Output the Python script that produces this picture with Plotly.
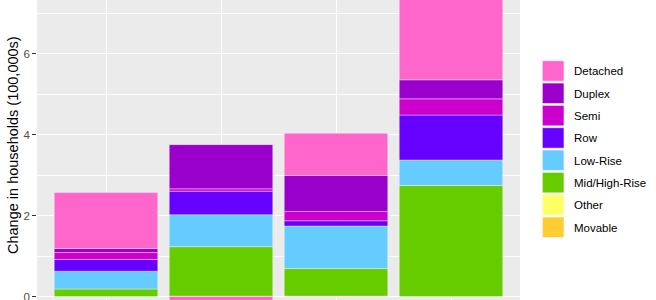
import plotly.graph_objects as go

# ---- data ----
periods = ["Period 1", "Period 2", "Period 3", "Period 4"]
types = ["Movable", "Other", "Mid/High-Rise", "Low-Rise", "Row", "Semi", "Duplex", "Detached"]
colors = {
    "Detached": "#FF66CC",
    "Duplex": "#9900CC",
    "Semi": "#CC00CC",
    "Row": "#6600FF",
    "Low-Rise": "#66CCFF",
    "Mid/High-Rise": "#66CC00",
    "Other": "#FFFF66",
    "Movable": "#FFCC33",
}
movable = [0.0, 0.0, 0.0, 0.0]
other = [0.0, 0.01, 0.01, 0.0]
mid_high = [0.185, 1.22, 0.68, 2.74]
low_rise = [0.44, 0.79, 1.05, 0.63]
row = [0.29, 0.58, 0.13, 1.11]
semi = [0.17, 0.06, 0.23, 0.40]
duplex = [0.10, 1.09, 0.89, 0.47]
detached = [1.38, -0.30, 1.04, 2.60]
values = {
    "Movable": movable, "Other": other, "Mid/High-Rise": mid_high, "Low-Rise": low_rise,
    "Row": row, "Semi": semi, "Duplex": duplex, "Detached": detached,
}
legend_order = ["Detached", "Duplex", "Semi", "Row", "Low-Rise", "Mid/High-Rise", "Other", "Movable"]

W, H = 656, 300
L, R = 37, 520  # panel pixel edges

fig = go.Figure()
for t in types:
    fig.add_trace(go.Bar(
        x=periods, y=values[t], name=t, width=0.9,
        marker=dict(color=colors[t], line=dict(color="rgba(255,255,255,0.35)", width=1)),
        showlegend=False,
    ))

# y range: 0 at pixel 296.5, 40.5 px per unit
y0px, ppu = 296.5, 40.5
yr = [-(H - y0px) / ppu, y0px / ppu]

fig.update_layout(
    width=W, height=H,
    margin=dict(l=L, r=W - R, t=0, b=0, autoexpand=False),
    barmode="relative", bargap=0.1,
    paper_bgcolor="white", plot_bgcolor="#EBEBEB",
    font=dict(family="Liberation Sans, Arial, sans-serif"),
    xaxis=dict(range=[-0.6, 3.6], showgrid=True, gridcolor="white", gridwidth=1.1,
               showticklabels=False, ticks="", zeroline=False, showline=False, automargin=False),
    yaxis=dict(range=yr, tickvals=[0, 2, 4, 6], ticktext=["0", "2", "4", "6"],
               showgrid=True, gridcolor="white", gridwidth=1.1, zeroline=False,
               minor=dict(tickvals=[1, 3, 5, 7], showgrid=True, gridcolor="white", gridwidth=0.55, ticks=""),
               ticks="outside", ticklen=3.7, tickwidth=1.1, tickcolor="#333333",
               ticklabeloverflow="allow",
               tickfont=dict(size=11.5, color="#4D4D4D"), automargin=False),
)

# axis title
fig.add_annotation(text="Change in households (100,000s)", textangle=-90,
                   xref="paper", yref="paper", x=(13 - L) / (R - L), y=1 - 145 / H,
                   xanchor="center", yanchor="middle", showarrow=False,
                   font=dict(size=14.5, color="black"))

# custom legend (ggplot-style keys)
def px_x(p):
    return (p - L) / (R - L)

def px_y(p):
    return 1 - p / H

top0, step, kh = 60.7, 22.33, 20.5
for i, t in enumerate(legend_order):
    ty = top0 + i * step
    fig.add_shape(type="rect", xref="paper", yref="paper",
                  x0=px_x(542.3), x1=px_x(564), y0=px_y(ty + kh), y1=px_y(ty),
                  fillcolor=colors[t], line=dict(color="rgba(255,255,255,0.6)", width=1))
    fig.add_annotation(text=t, xref="paper", yref="paper", x=px_x(571.5), y=px_y(ty + kh / 2 + 0.5),
                       xanchor="left", yanchor="middle", showarrow=False,
                       font=dict(size=11.5, color="black"))

fig.write_html("out.html")
